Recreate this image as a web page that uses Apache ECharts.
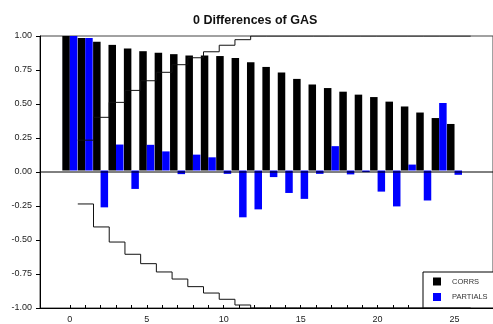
<!DOCTYPE html>
<html>
<head>
<meta charset="utf-8">
<script src="https://cdn.jsdelivr.net/npm/echarts@6/dist/echarts.min.js"></script>
<style>html,body{margin:0;padding:0;background:#fff;}#c{width:493px;height:324px;}</style>
</head>
<body>
<div id="c"></div>
<script>
var titleText = '0 Differences of GAS';
var lags = [0,1,2,3,4,5,6,7,8,9,10,11,12,13,14,15,16,17,18,19,20,21,22,23,24,25];
var corrs = [1.00,0.985,0.958,0.934,0.907,0.887,0.875,0.865,0.855,0.855,0.851,0.836,0.804,0.770,0.728,0.681,0.640,0.613,0.586,0.564,0.546,0.512,0.476,0.431,0.390,0.346];
var partials = [1.00,0.985,-0.274,0.193,-0.137,0.191,0.142,-0.027,0.118,0.098,-0.025,-0.348,-0.289,-0.049,-0.167,-0.211,-0.025,0.181,-0.029,-0.012,-0.157,-0.267,0.044,-0.223,0.502,-0.032];
var bandLags = [1,2,3,4,5,6,7,8,9,10,11,12,13,14,15,16,17,18,19,20,21,22,23,24,25];
var bandUpper = [0.234,0.402,0.512,0.600,0.671,0.733,0.789,0.840,0.884,0.932,0.973,1,1,1,1,1,1,1,1,1,1,1,1,1,1];
var bandLower = [-0.235,-0.404,-0.515,-0.605,-0.674,-0.735,-0.787,-0.843,-0.890,-0.936,-0.978,-1,-1,-1,-1,-1,-1,-1,-1,-1,-1,-1,-1,-1,-1];
var tickCats = ['0','1','2','3','4','5','6','7','8','9','10','11','12','13','14','15','16','17','18','19','20','21','22','23','24','25','26','27'];
var legendNames = ['CORRS','PARTIALS'];

var unit = 15.75;            // px per lag
var x0px = 70;               // pixel of lag 0
var gridLeft = 40;
var xMin = -(x0px - gridLeft) / unit;
var xMax = xMin + 454 / unit;

function stepData(vals) {
  var d = [];
  for (var i = 0; i < bandLags.length; i++) d.push([bandLags[i] - 0.5, vals[i]]);
  d.push([bandLags[bandLags.length - 1] + 0.5, vals[vals.length - 1]]);
  return d;
}

var font = "'Liberation Sans', Arial, sans-serif";
var chart = echarts.init(document.getElementById('c'), null, {renderer: 'canvas'});
chart.setOption({
  animation: false,
  backgroundColor: '#fff',
  title: {
    text: titleText, left: 188, top: 9,
    textStyle: {fontFamily: font, fontWeight: 'bold', fontSize: 12.5, color: '#111'}
  },
  legend: {
    data: legendNames, orient: 'vertical', left: 423, top: 272,
    itemWidth: 8, itemHeight: 8, itemGap: 7.5, icon: 'rect',
    padding: [5.5, 30, 7, 10],
    backgroundColor: '#fff', borderColor: '#000', borderWidth: 1,
    textStyle: {fontFamily: font, fontSize: 7.5, color: '#333', lineHeight: 8, padding: [0,0,0,6]}
  },
  grid: [
    {left: gridLeft, right: -1, top: 36, bottom: 16, show: true, borderColor: '#444', borderWidth: 1, backgroundColor: 'transparent'},
    {left: x0px - unit / 2, right: 493 - (x0px - unit / 2 + tickCats.length * unit), top: 36, bottom: 16}
  ],
  xAxis: [
    {gridIndex: 0, type: 'value', min: xMin, max: xMax,
     axisLine: {show: true, onZero: false, lineStyle: {color: '#000', width: 1}},
     axisTick: {show: false}, axisLabel: {show: false}, splitLine: {show: false}},
    {gridIndex: 1, type: 'category', data: tickCats, boundaryGap: true, position: 'bottom',
     axisLine: {show: false, onZero: false},
     axisTick: {show: true, alignWithLabel: true, interval: 0, length: 3, lineStyle: {color: '#000'}},
     axisLabel: {interval: 4, margin: 10, fontFamily: font, fontSize: 9, color: '#222'},
     splitLine: {show: false}}
  ],
  yAxis: [
    {gridIndex: 0, type: 'value', min: -1, max: 1, interval: 0.25, position: 'left',
     axisLine: {show: true, onZero: false, lineStyle: {color: '#000', width: 1}},
     axisTick: {show: true, length: 4, lineStyle: {color: '#000'}},
     axisLabel: {margin: 8, fontFamily: font, fontSize: 9, color: '#222',
       formatter: function (v) { return v.toFixed(2); }},
     splitLine: {show: false}},
    {gridIndex: 1, type: 'value', min: -1, max: 1, show: false}
  ],
  series: [
    {name: 'CORRS', type: 'bar', xAxisIndex: 1, yAxisIndex: 1, data: corrs,
     barWidth: 7.5, barGap: '0%', itemStyle: {color: '#000'}, z: 3},
    {name: 'PARTIALS', type: 'bar', xAxisIndex: 1, yAxisIndex: 1, data: partials,
     barWidth: 7.5, barGap: '0%', itemStyle: {color: '#0000ff'}, z: 3},
    {name: 'zero', type: 'line', xAxisIndex: 0, yAxisIndex: 0, data: [[xMin, 0], [xMax, 0]],
     symbol: 'none', lineStyle: {color: '#000', width: 1}, z: 4, silent: true},
    {name: 'upper', type: 'line', xAxisIndex: 0, yAxisIndex: 0, data: stepData(bandUpper), step: 'end',
     symbol: 'none', lineStyle: {color: '#111', width: 1}, z: 5, silent: true},
    {name: 'lower', type: 'line', xAxisIndex: 0, yAxisIndex: 0, data: stepData(bandLower), step: 'end',
     symbol: 'none', lineStyle: {color: '#111', width: 1}, z: 5, silent: true}
  ]
});
</script>
</body>
</html>
